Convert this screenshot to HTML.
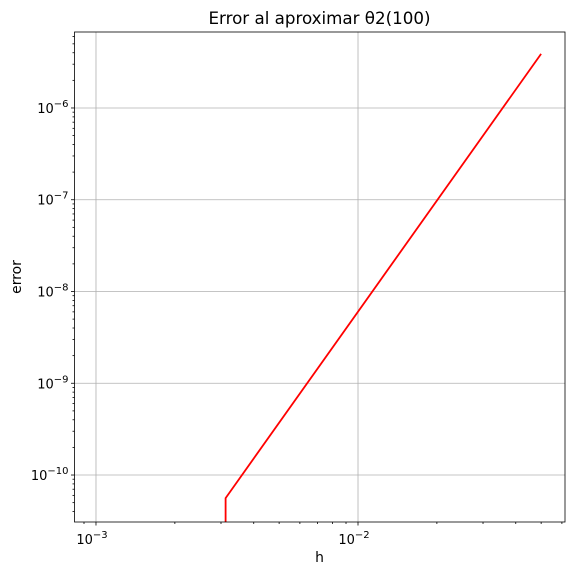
<!DOCTYPE html>
<html><head><meta charset="utf-8"><style>body{margin:0;background:#fff}svg{font-family:"DejaVu Sans","Liberation Sans",sans-serif}</style></head>
<body>
<svg id="c" width="574" height="575"></svg>
<script>
const hValues=[0.003125,0.003125,0.05];
const errValues=[1e-15,5.6e-11,3.88e-6];
const xTickExps=[-3,-2];
const yTickExps=[-10,-9,-8,-7,-6];
const L=74.5,R=565,T=32,B=522;
const xMin=-3.082,xMax=-1.210,yMin=-10.512,yMax=-5.172;
const X=v=>L+(Math.log10(v)-xMin)/(xMax-xMin)*(R-L);
const Y=v=>B-(Math.log10(v)-yMin)/(yMax-yMin)*(B-T);
const svg=document.getElementById('c');const NS='http://www.w3.org/2000/svg';
function mk(t,a,p){const e=document.createElementNS(NS,t);for(const k in a)e.setAttribute(k,a[k]);(p||svg).appendChild(e);return e;}
for(const e of xTickExps){const x=X(10**e);
const g=mk('line',{x1:x,x2:x,y1:T,y2:B,stroke:'#b0b0b0','stroke-width':0.8});

}
for(const e of yTickExps){const y=Y(10**e);
const g=mk('line',{x1:L,x2:R,y1:y,y2:y,stroke:'#b0b0b0','stroke-width':0.8});

}
const cp=mk('clipPath',{id:'cp'});mk('rect',{x:L,y:T,width:R-L,height:B-T},cp);
const pts=hValues.map((h,i)=>{let y=Y(errValues[i]);return X(h).toFixed(1)+','+Math.min(y,B+20).toFixed(1)}).join(' ');
const pl=mk('polyline',{points:pts,fill:'none',stroke:'#ff0000','stroke-width':1.8,'clip-path':'url(#cp)'});


for(let d=-4;d<=-1;d++)for(let m=1;m<10;m++){const v=m*10**d,lv=Math.log10(v);if(lv<xMin||lv>xMax)continue;const x=X(v);mk('line',{x1:x,x2:x,y1:B,y2:B+(m==1?3.5:2),stroke:'#000','stroke-width':0.8});}
for(let d=-11;d<=-5;d++)for(let m=1;m<10;m++){const v=m*10**d,lv=Math.log10(v);if(lv<yMin||lv>yMax)continue;const y=Y(v);mk('line',{x1:L,x2:L-(m==1?3.5:2),y1:y,y2:y,stroke:'#000','stroke-width':0.8});}
for(const e of xTickExps){const t=mk('text',{x:X(10**e)-4,y:B+22,'font-size':13,'text-anchor':'middle'});t.innerHTML='10<tspan dy="-6" font-size="10">−'+(-e)+'</tspan>';

}
for(const e of yTickExps){const t=mk('text',{x:L-6,y:Y(10**e)+5,'font-size':13,'text-anchor':'end'});t.innerHTML='10<tspan dy="-6" font-size="10">−'+(-e)+'</tspan>';

}
const fr=mk('rect',{x:L,y:T,width:R-L,height:B-T,fill:'none',stroke:'#000','stroke-width':0.8});


const ti=mk('text',{x:319.5,y:24,'font-size':16.7,'text-anchor':'middle'});ti.textContent='Error al aproximar θ2(100)';


const xl=mk('text',{x:319.5,y:562,'font-size':13.9,'text-anchor':'middle'});xl.textContent='h';


const yl=mk('text',{x:21,y:277,'font-size':13.9,'text-anchor':'middle',transform:'rotate(-90 21 277)'});yl.textContent='error';


</script>
</body></html>
